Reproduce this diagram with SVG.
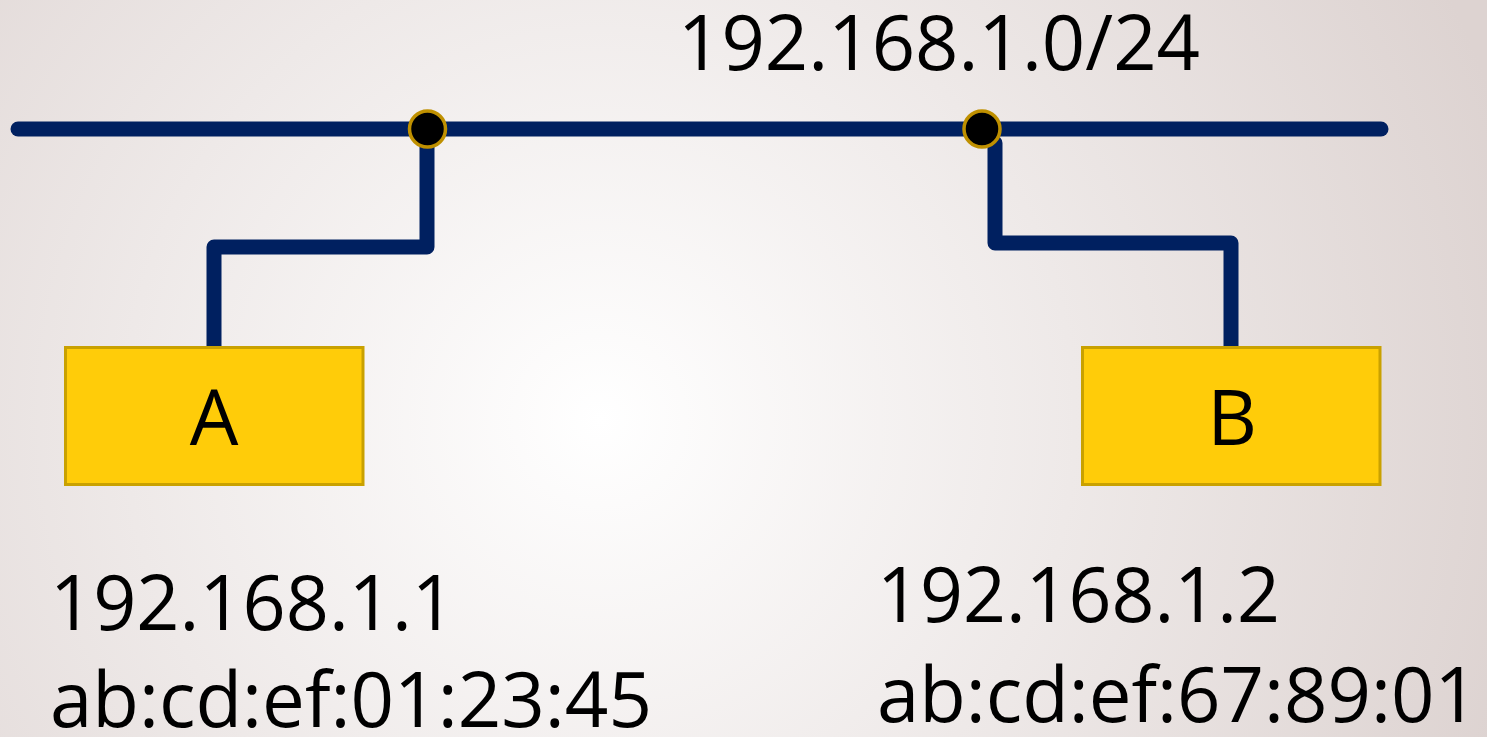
<svg xmlns="http://www.w3.org/2000/svg" width="1487" height="737" viewBox="0 0 1487 737">
<defs>
<radialGradient id="bg" gradientUnits="userSpaceOnUse" cx="600" cy="420" r="950">
<stop offset="0" stop-color="#ffffff"/>
<stop offset="1" stop-color="#ddd3d1"/>
</radialGradient>
<style>
.wire{fill:none;stroke:#002060;stroke-width:15;stroke-linecap:round;stroke-linejoin:round}
.tap{fill:#000;stroke:#bf9000;stroke-width:3.5}
.box{fill:#ffcc09;stroke:#c9a100;stroke-width:3}
.t{font-family:"Open Sans","Liberation Sans",sans-serif;fill:#000}
</style>
</defs>
<rect width="1487" height="737" fill="url(#bg)"/>
<g id="connectors">
<line class="wire" x1="18" y1="129" x2="1381" y2="129"/>
<path class="wire" d="M427 147 V247 H214 V348"/>
<path class="wire" d="M995 143 V243 H1231 V348"/>
</g>
<g id="tapA"><circle class="tap" cx="427.5" cy="129" r="18"/></g>
<g id="tapB"><circle class="tap" cx="982" cy="129" r="18"/></g>
<g id="subnet"><text class="t" x="678" y="70" font-size="76" textLength="522" lengthAdjust="spacingAndGlyphs">192.168.1.0/24</text></g>
<g id="nodeA">
<rect class="box" x="65.5" y="347.5" width="297.5" height="137"/>
<text class="t" x="214" y="445" font-size="77" text-anchor="middle">A</text>
</g>
<g id="nodeB">
<rect class="box" x="1082.5" y="347.5" width="297.5" height="137"/>
<text class="t" x="1232" y="445" font-size="77" text-anchor="middle">B</text>
</g>
<g id="labelA">
<text class="t" x="50" y="630" font-size="76" textLength="405" lengthAdjust="spacingAndGlyphs">192.168.1.1</text>
<text class="t" x="50" y="727" font-size="76" textLength="602" lengthAdjust="spacingAndGlyphs">ab:cd:ef:01:23:45</text>
</g>
<g id="labelB">
<text class="t" x="877" y="622" font-size="76" textLength="403" lengthAdjust="spacingAndGlyphs">192.168.1.2</text>
<text class="t" x="877" y="722" font-size="76" textLength="601" lengthAdjust="spacingAndGlyphs">ab:cd:ef:67:89:01</text>
</g>
</svg>
